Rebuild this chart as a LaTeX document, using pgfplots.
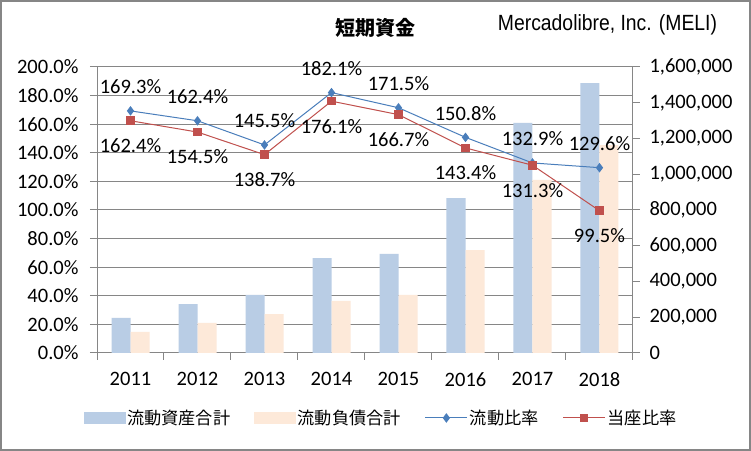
\documentclass[border=0pt]{standalone}
\usepackage{fontspec}
\setmainfont{Carlito}
\newfontfamily\cjk{Noto Sans CJK JP}
\newfontfamily\narrowfont{Liberation Sans}[FakeStretch=0.88]
\usepackage{pgfplots}
\pgfplotsset{compat=1.18}

\definecolor{axgray}{RGB}{134,134,134}
\definecolor{barblue}{RGB}{185,205,229}
\definecolor{barorange}{RGB}{253,233,217}
\definecolor{linblue}{RGB}{74,126,187}
\definecolor{linred}{RGB}{192,80,77}

\pgfkeys{/pgf/number format/assume math mode=true}
\newcommand\lblfont{\fontsize{20.5bp}{24bp}\selectfont}

\pgfplotsset{
  common/.style={
    at={(97bp,98bp)}, anchor=south west,
    scale only axis, width=536bp, height=286bp,
    xmin=-0.5, xmax=7.5,
    tick align=outside, major tick length=7bp,
    tick style={axgray, line width=1bp},
    axis line style={axgray, line width=1bp},
    ticklabel style={font=\lblfont, text=black},
  },
}

\begin{document}
\begin{tikzpicture}
\path[use as bounding box] (0bp,0bp) rectangle (751bp,451bp);
\fill[white] (0bp,0bp) rectangle (751bp,451bp);
\draw[axgray, line width=2bp] (1bp,1bp) rectangle (750bp,450bp);

% percent axis with grid
\begin{axis}[common,
  ymin=0, ymax=200,
  axis x line*=bottom, axis y line*=left,
  xtick={-0.5,0.5,1.5,2.5,3.5,4.5,5.5,6.5,7.5},
  x tick label as interval,
  xticklabels={2011,2012,2013,2014,2015,2016,2017,2018},
  xticklabel style={yshift=-9bp},
  ytick={0,20,40,60,80,100,120,140,160,180,200},
  yticklabel={\pgfmathprintnumber[fixed,fixed zerofill,precision=1]{\tick}\%},
  yticklabel style={xshift=-8bp},
  ymajorgrids, grid style={axgray, line width=1bp},
]
\end{axis}

% amounts, right axis
\begin{axis}[common,
  ymin=0, ymax=1600000,
  axis y line*=right, axis x line=none,
  ybar=0pt, bar width=19bp,
  ytick={0,200000,400000,600000,800000,1000000,1200000,1400000,1600000},
  scaled y ticks=false,
  yticklabel style={xshift=6bp, /pgf/number format/.cd, fixed, 1000 sep={,}},
]
\addplot[fill=barblue, draw=none] coordinates {
  (0,195800) (1,274000) (2,324500) (3,531000)
  (4,554000) (5,867000) (6,1287000) (7,1510000)};
\addplot[fill=barorange, draw=none] coordinates {
  (0,117500) (1,168000) (2,218000) (3,291000)
  (4,324500) (5,576000) (6,968000) (7,1163000)};
\end{axis}

% ratios
\begin{axis}[common,
  ymin=0, ymax=200,
  hide axis, clip=false,
  legend columns=4,
  legend style={draw=none, fill=none, at={(0.53,-0.227)}, anchor=center,
    font=\cjk\fontsize{17.2bp}{20bp}\selectfont,
    /tikz/every odd column/.append style={column sep=0bp},
    /tikz/every even column/.append style={column sep=22bp}},
  legend image code/.code={\draw[mark repeat=2,mark phase=2,#1]
    plot coordinates {(0bp,0bp) (21bp,0bp) (42bp,0bp)};},
]
\addlegendimage{legend image code/.code={\fill[barblue] (0bp,-5.5bp) rectangle (41bp,5.5bp);}}
\addlegendentry{流動資産合計}
\addlegendimage{legend image code/.code={\fill[barorange] (0bp,-5.5bp) rectangle (41bp,5.5bp);}}
\addlegendentry{流動負債合計}
\addplot[linblue, line width=1bp, mark=diamond*, mark size=4bp,
  mark options={fill=linblue},
  nodes near coords={\pgfmathprintnumber[fixed,fixed zerofill,precision=1]{\pgfplotspointmeta}\%},
  every node near coord/.append style={font=\lblfont, text=black, anchor=center, yshift=24bp}]
  coordinates {(0,169.3) (1,162.4) (2,145.5) (3,182.1)
               (4,171.5) (5,150.8) (6,132.9) (7,129.6)};
\addlegendentry{流動比率}
\addplot[linred, line width=1bp, mark=square*, mark size=3.8bp,
  mark options={fill=linred},
  nodes near coords={\pgfmathprintnumber[fixed,fixed zerofill,precision=1]{\pgfplotspointmeta}\%},
  every node near coord/.append style={font=\lblfont, text=black, anchor=center, yshift=-25bp}]
  coordinates {(0,162.4) (1,154.5) (2,138.7) (3,176.1)
               (4,166.7) (5,143.4) (6,131.3) (7,99.5)};
\addlegendentry{当座比率}
\end{axis}

\node[font=\cjk\bfseries\fontsize{20bp}{24bp}\selectfont] at (375bp,423.5bp) {短期資金};
\node[font=\narrowfont\fontsize{22bp}{26bp}\selectfont] at (607.5bp,426bp) {Mercadolibre, Inc. (MELI)};
\end{tikzpicture}
\end{document}
